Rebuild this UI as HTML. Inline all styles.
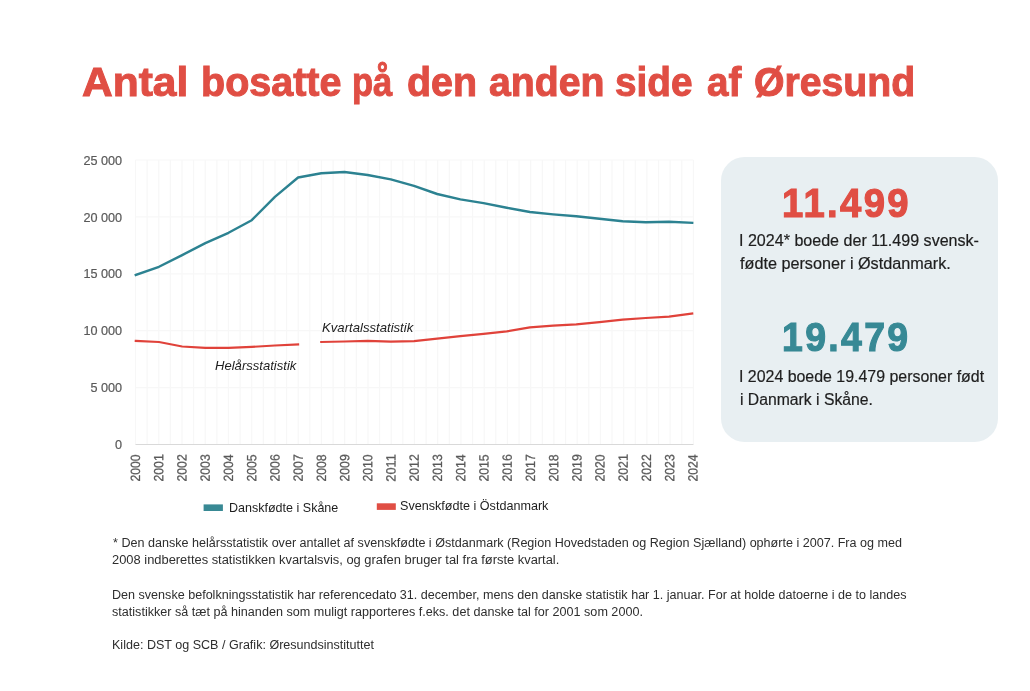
<!DOCTYPE html>
<html lang="da">
<head>
<meta charset="utf-8">
<title>Antal bosatte på den anden side af Øresund</title>
<style>
html,body{margin:0;padding:0;background:#fff;}
body{width:1030px;height:691px;position:relative;overflow:hidden;font-family:"Liberation Sans",sans-serif;}
.t{position:absolute;white-space:nowrap;line-height:1;transform-origin:0 0;margin:0;}
.box{position:absolute;left:721.2px;top:156.8px;width:276.6px;height:285px;border-radius:23.5px;background:#E8EFF2;}
svg{position:absolute;left:0;top:0;}
.num{-webkit-text-stroke:1.2px currentColor;}
.body{-webkit-text-stroke:0.2px currentColor;}
</style>
</head>
<body>
<div class="box"></div>
<svg width="1030" height="691" viewBox="0 0 1030 691">
<line x1="135.50" y1="160" x2="135.50" y2="444.5" stroke="#F7F7F7" stroke-width="1.2"/>
<line x1="147.12" y1="160" x2="147.12" y2="444.5" stroke="#F7F7F7" stroke-width="1.2"/>
<line x1="158.75" y1="160" x2="158.75" y2="444.5" stroke="#F7F7F7" stroke-width="1.2"/>
<line x1="170.37" y1="160" x2="170.37" y2="444.5" stroke="#F7F7F7" stroke-width="1.2"/>
<line x1="181.99" y1="160" x2="181.99" y2="444.5" stroke="#F7F7F7" stroke-width="1.2"/>
<line x1="193.61" y1="160" x2="193.61" y2="444.5" stroke="#F7F7F7" stroke-width="1.2"/>
<line x1="205.24" y1="160" x2="205.24" y2="444.5" stroke="#F7F7F7" stroke-width="1.2"/>
<line x1="216.86" y1="160" x2="216.86" y2="444.5" stroke="#F7F7F7" stroke-width="1.2"/>
<line x1="228.48" y1="160" x2="228.48" y2="444.5" stroke="#F7F7F7" stroke-width="1.2"/>
<line x1="240.11" y1="160" x2="240.11" y2="444.5" stroke="#F7F7F7" stroke-width="1.2"/>
<line x1="251.73" y1="160" x2="251.73" y2="444.5" stroke="#F7F7F7" stroke-width="1.2"/>
<line x1="263.35" y1="160" x2="263.35" y2="444.5" stroke="#F7F7F7" stroke-width="1.2"/>
<line x1="274.98" y1="160" x2="274.98" y2="444.5" stroke="#F7F7F7" stroke-width="1.2"/>
<line x1="286.60" y1="160" x2="286.60" y2="444.5" stroke="#F7F7F7" stroke-width="1.2"/>
<line x1="298.22" y1="160" x2="298.22" y2="444.5" stroke="#F7F7F7" stroke-width="1.2"/>
<line x1="309.84" y1="160" x2="309.84" y2="444.5" stroke="#F7F7F7" stroke-width="1.2"/>
<line x1="321.47" y1="160" x2="321.47" y2="444.5" stroke="#F7F7F7" stroke-width="1.2"/>
<line x1="333.09" y1="160" x2="333.09" y2="444.5" stroke="#F7F7F7" stroke-width="1.2"/>
<line x1="344.71" y1="160" x2="344.71" y2="444.5" stroke="#F7F7F7" stroke-width="1.2"/>
<line x1="356.34" y1="160" x2="356.34" y2="444.5" stroke="#F7F7F7" stroke-width="1.2"/>
<line x1="367.96" y1="160" x2="367.96" y2="444.5" stroke="#F7F7F7" stroke-width="1.2"/>
<line x1="379.58" y1="160" x2="379.58" y2="444.5" stroke="#F7F7F7" stroke-width="1.2"/>
<line x1="391.20" y1="160" x2="391.20" y2="444.5" stroke="#F7F7F7" stroke-width="1.2"/>
<line x1="402.83" y1="160" x2="402.83" y2="444.5" stroke="#F7F7F7" stroke-width="1.2"/>
<line x1="414.45" y1="160" x2="414.45" y2="444.5" stroke="#F7F7F7" stroke-width="1.2"/>
<line x1="426.07" y1="160" x2="426.07" y2="444.5" stroke="#F7F7F7" stroke-width="1.2"/>
<line x1="437.70" y1="160" x2="437.70" y2="444.5" stroke="#F7F7F7" stroke-width="1.2"/>
<line x1="449.32" y1="160" x2="449.32" y2="444.5" stroke="#F7F7F7" stroke-width="1.2"/>
<line x1="460.94" y1="160" x2="460.94" y2="444.5" stroke="#F7F7F7" stroke-width="1.2"/>
<line x1="472.56" y1="160" x2="472.56" y2="444.5" stroke="#F7F7F7" stroke-width="1.2"/>
<line x1="484.19" y1="160" x2="484.19" y2="444.5" stroke="#F7F7F7" stroke-width="1.2"/>
<line x1="495.81" y1="160" x2="495.81" y2="444.5" stroke="#F7F7F7" stroke-width="1.2"/>
<line x1="507.43" y1="160" x2="507.43" y2="444.5" stroke="#F7F7F7" stroke-width="1.2"/>
<line x1="519.06" y1="160" x2="519.06" y2="444.5" stroke="#F7F7F7" stroke-width="1.2"/>
<line x1="530.68" y1="160" x2="530.68" y2="444.5" stroke="#F7F7F7" stroke-width="1.2"/>
<line x1="542.30" y1="160" x2="542.30" y2="444.5" stroke="#F7F7F7" stroke-width="1.2"/>
<line x1="553.92" y1="160" x2="553.92" y2="444.5" stroke="#F7F7F7" stroke-width="1.2"/>
<line x1="565.55" y1="160" x2="565.55" y2="444.5" stroke="#F7F7F7" stroke-width="1.2"/>
<line x1="577.17" y1="160" x2="577.17" y2="444.5" stroke="#F7F7F7" stroke-width="1.2"/>
<line x1="588.79" y1="160" x2="588.79" y2="444.5" stroke="#F7F7F7" stroke-width="1.2"/>
<line x1="600.42" y1="160" x2="600.42" y2="444.5" stroke="#F7F7F7" stroke-width="1.2"/>
<line x1="612.04" y1="160" x2="612.04" y2="444.5" stroke="#F7F7F7" stroke-width="1.2"/>
<line x1="623.66" y1="160" x2="623.66" y2="444.5" stroke="#F7F7F7" stroke-width="1.2"/>
<line x1="635.29" y1="160" x2="635.29" y2="444.5" stroke="#F7F7F7" stroke-width="1.2"/>
<line x1="646.91" y1="160" x2="646.91" y2="444.5" stroke="#F7F7F7" stroke-width="1.2"/>
<line x1="658.53" y1="160" x2="658.53" y2="444.5" stroke="#F7F7F7" stroke-width="1.2"/>
<line x1="670.15" y1="160" x2="670.15" y2="444.5" stroke="#F7F7F7" stroke-width="1.2"/>
<line x1="681.78" y1="160" x2="681.78" y2="444.5" stroke="#F7F7F7" stroke-width="1.2"/>
<line x1="693.40" y1="160" x2="693.40" y2="444.5" stroke="#F7F7F7" stroke-width="1.2"/>
<line x1="135.50" y1="387.60" x2="693.40" y2="387.60" stroke="#F7F7F7" stroke-width="1.2"/>
<line x1="135.50" y1="330.70" x2="693.40" y2="330.70" stroke="#F7F7F7" stroke-width="1.2"/>
<line x1="135.50" y1="273.80" x2="693.40" y2="273.80" stroke="#F7F7F7" stroke-width="1.2"/>
<line x1="135.50" y1="216.90" x2="693.40" y2="216.90" stroke="#F7F7F7" stroke-width="1.2"/>
<line x1="135.50" y1="160.00" x2="693.40" y2="160.00" stroke="#F7F7F7" stroke-width="1.2"/>
<line x1="135.50" y1="444.5" x2="693.40" y2="444.5" stroke="#D9D9D9" stroke-width="1"/>
<polyline points="135.80,275.00 158.98,266.80 182.17,255.10 205.35,243.10 228.53,232.80 251.72,220.20 274.90,196.90 298.08,177.50 321.27,173.20 344.45,172.00 367.63,175.00 390.82,179.40 414.00,185.80 437.18,194.00 460.37,199.40 483.55,203.10 506.73,207.80 529.92,212.00 553.10,214.40 576.28,216.30 599.47,218.80 622.65,221.20 645.83,222.30 669.02,221.70 692.20,222.80" fill="none" stroke="#2C8291" stroke-width="2.4" stroke-linejoin="round" stroke-linecap="square"/>
<polyline points="135.80,340.90 158.98,342.00 182.17,346.50 205.35,347.90 228.53,347.90 251.72,346.90 274.90,345.50 298.08,344.40" fill="none" stroke="#E0423A" stroke-width="2.2" stroke-linejoin="round" stroke-linecap="square"/>
<polyline points="321.27,342.00 344.45,341.50 367.63,340.90 390.82,341.70 414.00,341.10 437.18,338.70 460.37,336.20 483.55,333.90 506.73,331.40 529.92,327.30 553.10,325.70 576.28,324.40 599.47,322.20 622.65,319.70 645.83,318.00 669.02,316.60 692.20,313.60" fill="none" stroke="#E0423A" stroke-width="2.2" stroke-linejoin="round" stroke-linecap="square"/>
</svg>
<h1 class="t" style="left:0;top:0;font-size:40.5px;font-weight:bold;color:#E04E44;width:1030px;height:0;-webkit-text-stroke:1px #E04E44">
<span class="t" style="left:81.64px;top:61.75px;transform:scaleX(1.0496)">Antal</span> 
<span class="t" style="left:200.83px;top:61.75px;transform:scaleX(0.9752)">bosatte</span> 
<span class="t" style="left:352.44px;top:61.75px;transform:scaleX(0.8535)">på</span> 
<span class="t" style="left:407.27px;top:61.75px;transform:scaleX(0.9727)">den</span> 
<span class="t" style="left:488.89px;top:61.75px;transform:scaleX(0.9685)">anden</span> 
<span class="t" style="left:615.49px;top:61.75px;transform:scaleX(0.9573)">side</span> 
<span class="t" style="left:707.10px;top:61.75px;transform:scaleX(0.9522)">af</span> 
<span class="t" style="left:753.98px;top:61.75px;transform:scaleX(0.9676)">Øresund</span> 
</h1>
<div class="t num" style="left:782.21px;top:183.35px;font-size:41.3px;font-weight:bold;font-style:normal;color:#E04E44;letter-spacing:2.53px;transform:scaleX(0.9258)">11.499</div>
<div class="t body" style="left:739.25px;top:232.50px;font-size:16px;font-weight:normal;font-style:normal;color:#1E1E1E;letter-spacing:0.00px;transform:scaleX(1.0040)">I 2024* boede der 11.499 svensk-</div>
<div class="t body" style="left:740.30px;top:255.50px;font-size:16px;font-weight:normal;font-style:normal;color:#1E1E1E;letter-spacing:0.00px;transform:scaleX(1.0129)">fødte personer i Østdanmark.</div>
<div class="t num" style="left:782.46px;top:317.35px;font-size:41.3px;font-weight:bold;font-style:normal;color:#378995;letter-spacing:2.58px;transform:scaleX(0.9057)">19.479</div>
<div class="t body" style="left:739.26px;top:368.50px;font-size:16px;font-weight:normal;font-style:normal;color:#1E1E1E;letter-spacing:0.00px;transform:scaleX(0.9947)">I 2024 boede 19.479 personer født</div>
<div class="t body" style="left:739.52px;top:391.50px;font-size:16px;font-weight:normal;font-style:normal;color:#1E1E1E;letter-spacing:0.00px;transform:scaleX(0.9833)">i Danmark i Skåne.</div>
<div class="t lab" style="left:321.63px;top:321.70px;font-size:12.6px;font-weight:normal;font-style:italic;color:#1E1E1E;letter-spacing:0.00px;transform:scaleX(1.0431)">Kvartalsstatistik</div>
<div class="t lab" style="left:214.64px;top:359.70px;font-size:12.6px;font-weight:normal;font-style:italic;color:#1E1E1E;letter-spacing:0.00px;transform:scaleX(1.0379)">Helårsstatistik</div>
<div class="t leg" style="left:228.62px;top:501.00px;font-size:13px;font-weight:normal;font-style:normal;color:#1E1E1E;letter-spacing:0.00px;transform:scaleX(0.9633)">Danskfødte i Skåne</div>
<div class="t leg" style="left:400.01px;top:499.00px;font-size:13px;font-weight:normal;font-style:normal;color:#1E1E1E;letter-spacing:0.00px;transform:scaleX(0.9688)">Svenskfødte i Östdanmark</div>
<div class="t fn" style="left:112.65px;top:536.85px;font-size:12.3px;font-weight:normal;font-style:normal;color:#2E2E2E;letter-spacing:0.00px;transform:scaleX(1.0224)">* Den danske helårsstatistik over antallet af svenskfødte i Østdanmark (Region Hovedstaden og Region Sjælland) ophørte i 2007. Fra og med</div>
<div class="t fn" style="left:111.77px;top:553.85px;font-size:12.3px;font-weight:normal;font-style:normal;color:#2E2E2E;letter-spacing:0.00px;transform:scaleX(1.0488)">2008 indberettes statistikken kvartalsvis, og grafen bruger tal fra første kvartal.</div>
<div class="t fn" style="left:111.58px;top:588.85px;font-size:12.3px;font-weight:normal;font-style:normal;color:#2E2E2E;letter-spacing:0.00px;transform:scaleX(1.0222)">Den svenske befolkningsstatistik har referencedato 31. december, mens den danske statistik har 1. januar. For at holde datoerne i de to landes</div>
<div class="t fn" style="left:112.09px;top:605.85px;font-size:12.3px;font-weight:normal;font-style:normal;color:#2E2E2E;letter-spacing:0.00px;transform:scaleX(1.0247)">statistikker så tæt på hinanden som muligt rapporteres f.eks. det danske tal for 2001 som 2000.</div>
<div class="t fn" style="left:111.58px;top:638.85px;font-size:12.3px;font-weight:normal;font-style:normal;color:#2E2E2E;letter-spacing:0.00px;transform:scaleX(1.0205)">Kilde: DST og SCB / Grafik: Øresundsinstituttet</div>
<svg width="1030" height="691" viewBox="0 0 1030 691" font-family="Liberation Sans, sans-serif">
<text transform="translate(140.10,481.61) rotate(-89.95) scale(1.0206,1.1173)" font-size="12" fill="#595959" stroke="#595959" stroke-width="0.25">2000</text>
<text transform="translate(163.33,481.62) rotate(-89.95) scale(1.0266,1.1173)" font-size="12" fill="#595959" stroke="#595959" stroke-width="0.25">2001</text>
<text transform="translate(186.55,481.62) rotate(-89.95) scale(1.0266,1.1173)" font-size="12" fill="#595959" stroke="#595959" stroke-width="0.25">2002</text>
<text transform="translate(209.78,481.61) rotate(-89.95) scale(1.0246,1.1173)" font-size="12" fill="#595959" stroke="#595959" stroke-width="0.25">2003</text>
<text transform="translate(233.00,481.61) rotate(-89.95) scale(1.0166,1.1173)" font-size="12" fill="#595959" stroke="#595959" stroke-width="0.25">2004</text>
<text transform="translate(256.23,481.61) rotate(-89.95) scale(1.0226,1.1173)" font-size="12" fill="#595959" stroke="#595959" stroke-width="0.25">2005</text>
<text transform="translate(279.45,481.61) rotate(-89.95) scale(1.0246,1.1173)" font-size="12" fill="#595959" stroke="#595959" stroke-width="0.25">2006</text>
<text transform="translate(302.68,481.62) rotate(-89.95) scale(1.0266,1.1173)" font-size="12" fill="#595959" stroke="#595959" stroke-width="0.25">2007</text>
<text transform="translate(325.90,481.61) rotate(-89.95) scale(1.0226,1.1173)" font-size="12" fill="#595959" stroke="#595959" stroke-width="0.25">2008</text>
<text transform="translate(349.13,481.61) rotate(-89.95) scale(1.0246,1.1173)" font-size="12" fill="#595959" stroke="#595959" stroke-width="0.25">2009</text>
<text transform="translate(372.35,481.61) rotate(-89.95) scale(1.0206,1.1173)" font-size="12" fill="#595959" stroke="#595959" stroke-width="0.25">2010</text>
<text transform="translate(395.58,481.64) rotate(-89.95) scale(1.0637,1.1173)" font-size="12" fill="#595959" stroke="#595959" stroke-width="0.25">2011</text>
<text transform="translate(418.80,481.62) rotate(-89.95) scale(1.0266,1.1173)" font-size="12" fill="#595959" stroke="#595959" stroke-width="0.25">2012</text>
<text transform="translate(442.03,481.61) rotate(-89.95) scale(1.0246,1.1173)" font-size="12" fill="#595959" stroke="#595959" stroke-width="0.25">2013</text>
<text transform="translate(465.25,481.61) rotate(-89.95) scale(1.0166,1.1173)" font-size="12" fill="#595959" stroke="#595959" stroke-width="0.25">2014</text>
<text transform="translate(488.48,481.61) rotate(-89.95) scale(1.0226,1.1173)" font-size="12" fill="#595959" stroke="#595959" stroke-width="0.25">2015</text>
<text transform="translate(511.70,481.61) rotate(-89.95) scale(1.0246,1.1173)" font-size="12" fill="#595959" stroke="#595959" stroke-width="0.25">2016</text>
<text transform="translate(534.92,481.62) rotate(-89.95) scale(1.0266,1.1173)" font-size="12" fill="#595959" stroke="#595959" stroke-width="0.25">2017</text>
<text transform="translate(558.15,481.61) rotate(-89.95) scale(1.0226,1.1173)" font-size="12" fill="#595959" stroke="#595959" stroke-width="0.25">2018</text>
<text transform="translate(581.38,481.61) rotate(-89.95) scale(1.0246,1.1173)" font-size="12" fill="#595959" stroke="#595959" stroke-width="0.25">2019</text>
<text transform="translate(604.60,481.61) rotate(-89.95) scale(1.0206,1.1173)" font-size="12" fill="#595959" stroke="#595959" stroke-width="0.25">2020</text>
<text transform="translate(627.83,481.62) rotate(-89.95) scale(1.0266,1.1173)" font-size="12" fill="#595959" stroke="#595959" stroke-width="0.25">2021</text>
<text transform="translate(651.05,481.62) rotate(-89.95) scale(1.0266,1.1173)" font-size="12" fill="#595959" stroke="#595959" stroke-width="0.25">2022</text>
<text transform="translate(674.28,481.61) rotate(-89.95) scale(1.0246,1.1173)" font-size="12" fill="#595959" stroke="#595959" stroke-width="0.25">2023</text>
<text transform="translate(697.50,481.61) rotate(-89.95) scale(1.0166,1.1173)" font-size="12" fill="#595959" stroke="#595959" stroke-width="0.25">2024</text>
<text transform="translate(122.09,164.60) scale(0.9807,1)" text-anchor="end" font-size="12.9" fill="#595959" stroke="#595959" stroke-width="0.2">25 000</text>
<text transform="translate(122.09,221.50) scale(0.9807,1)" text-anchor="end" font-size="12.9" fill="#595959" stroke="#595959" stroke-width="0.2">20 000</text>
<text transform="translate(122.09,278.40) scale(0.9807,1)" text-anchor="end" font-size="12.9" fill="#595959" stroke="#595959" stroke-width="0.2">15 000</text>
<text transform="translate(122.09,335.30) scale(0.9807,1)" text-anchor="end" font-size="12.9" fill="#595959" stroke="#595959" stroke-width="0.2">10 000</text>
<text transform="translate(122.09,392.20) scale(0.9807,1)" text-anchor="end" font-size="12.9" fill="#595959" stroke="#595959" stroke-width="0.2">5 000</text>
<text transform="translate(122.09,449.10) scale(0.9807,1)" text-anchor="end" font-size="12.9" fill="#595959" stroke="#595959" stroke-width="0.2">0</text>
</svg>
<svg width="1030" height="691" viewBox="0 0 1030 691"><rect x="203.6" y="504.4" width="19.3" height="6.6" fill="#388994"/><rect x="376.8" y="503.3" width="19" height="6.6" fill="#E04E44"/></svg>
</body>
</html>
